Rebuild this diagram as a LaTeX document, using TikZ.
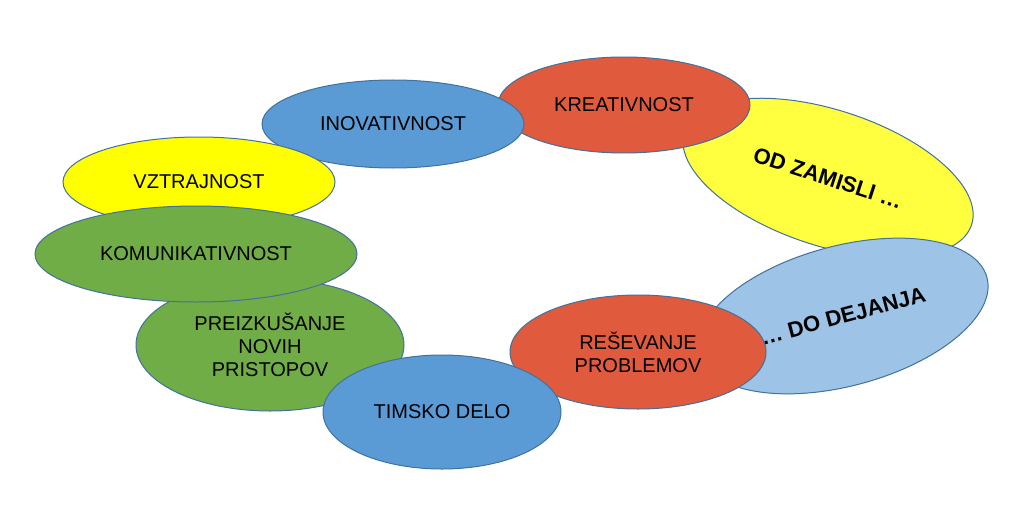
\documentclass[tikz,border=0pt]{standalone}
\usepackage{fontspec}
\setmainfont{Liberation Sans}
\usetikzlibrary{shapes.geometric}
\definecolor{cblue}{HTML}{5B9BD5}
\definecolor{cltblue}{HTML}{9DC3E6}
\definecolor{cred}{HTML}{E05A3E}
\definecolor{cyellow}{HTML}{FFFF00}
\definecolor{cyellowb}{HTML}{FFFF40}
\definecolor{cgreen}{HTML}{70AD47}
\definecolor{cline}{HTML}{41719C}
\begin{document}
\begin{tikzpicture}[x=1pt,y=-1pt,
  bub/.style={ellipse, draw=cline, line width=1pt, inner sep=0pt, align=center,
    font=\fontsize{20}{23}\selectfont},
  big/.style={font=\fontsize{22}{25}\selectfont\bfseries}]
\useasboundingbox[fill=white] (0,0) rectangle (1024,508);
\node[bub, big, fill=cyellowb, minimum width=302pt, minimum height=136pt, rotate=-18] (zam) at (828,178) {OD ZAMISLI …};
\node[bub, fill=cred, minimum width=252pt, minimum height=96pt] (kre) at (624,105) {KREATIVNOST};
\node[bub, fill=cblue, minimum width=262pt, minimum height=88pt] (ino) at (393,124) {INOVATIVNOST};
\node[bub, fill=cyellow, minimum width=272pt, minimum height=90pt] (vzt) at (199,182) {VZTRAJNOST};
\node[bub, big, fill=cltblue, minimum width=298pt, minimum height=140pt, rotate=15] (dej) at (843,316) {… DO DEJANJA};
\node[bub, fill=cred, minimum width=256pt, minimum height=114pt] (res) at (638,352) {REŠEVANJE\\PROBLEMOV};
\node[bub, fill=cgreen, minimum width=268pt, minimum height=132pt] (pre) at (270,345) {PREIZKUŠANJE\\NOVIH\\PRISTOPOV};
\node[bub, fill=cblue, minimum width=238pt, minimum height=114pt] (tim) at (442,412) {TIMSKO DELO};
\node[bub, fill=cgreen, minimum width=322pt, minimum height=96pt] (kom) at (196,254) {KOMUNIKATIVNOST};
\end{tikzpicture}
\end{document}
